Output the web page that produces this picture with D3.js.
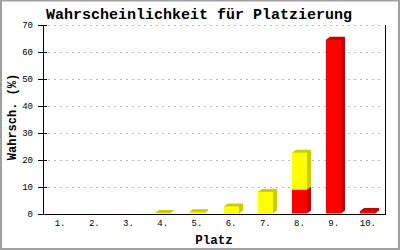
<!DOCTYPE html>
<html lang="de">
<head>
<meta charset="utf-8">
<style>
  body { margin: 0; background: #fff; }
  svg { display: block; font-family: "Liberation Mono", "DejaVu Sans Mono", monospace; }
</style>
<title></title>
</head>
<body>
<script src="https://d3js.org/d3.v7.min.js"></script>
<script>
// data
var plaetze = ["1.", "2.", "3.", "4.", "5.", "6.", "7.", "8.", "9.", "10."];
var rot  = [0, 0, 0, 0, 0, 0, 0, 8.8, 64.5, 0.9];   // unterer Teil
var gelb = [0, 0, 0, 0.2, 0.5, 2.6, 8.0, 13.8, 0, 0]; // oberer Teil
var yTicks = [0, 10, 20, 30, 40, 50, 60, 70];

var W = 400, H = 250;
var plotL = 43, plotR = 385, plotT = 25, plotB = 213.5;

var svg = d3.select("body").append("svg")
    .attr("width", W)
    .attr("height", H);

// outer frame
svg.append("rect")
    .attr("x", 1).attr("y", 0.5)
    .attr("width", W - 2).attr("height", H - 1.5)
    .attr("fill", "#fff")
    .attr("stroke", "#a0a0a0")
    .attr("stroke-width", 2);

var x = d3.scaleBand().domain(plaetze).range([plotL, plotR]);
var y = d3.scaleLinear().domain([0, 70]).range([plotB, plotT]);

// grid lines
svg.append("g").selectAll("line")
    .data(yTicks.filter(function(d) { return d > 0; }))
    .enter().append("line")
    .attr("x1", plotL + 5).attr("x2", plotR - 2)
    .attr("y1", function(d) { return Math.round(y(d)) + 0.5; })
    .attr("y2", function(d) { return Math.round(y(d)) + 0.5; })
    .attr("stroke", "#b8b8b8")
    .attr("stroke-dasharray", "2,4");

// bars (stacked, with 3D shadow)
var bw = 15, dx = 4, dy = 3;
var segs = [];
plaetze.forEach(function(p, i) {
    var s = [
        {p: p, y0: 0, y1: rot[i], front: "#ff0000", side: "#cc0000"},
        {p: p, y0: rot[i], y1: rot[i] + gelb[i], front: "#ffff00", side: "#cccc00"}
    ];
    s.forEach(function(d) { if (d.y1 > d.y0) segs.push(d); });
});

var bars = svg.append("g").selectAll("g").data(segs).enter().append("g");

function x0(d) { return Math.round(x(d.p) + (x.bandwidth() - bw) / 2); }

bars.append("polygon")
    .attr("points", function(d) {
        var a = x0(d), b = a + bw, t = y(d.y1), u = y(d.y0);
        return [[a, t], [a + dx, t - dy], [b + dx, t - dy], [b + dx, u - dy], [b, u]].join(" ");
    })
    .attr("fill", function(d) { return d.side; });

bars.append("rect")
    .attr("x", x0)
    .attr("y", function(d) { return y(d.y1); })
    .attr("width", bw)
    .attr("height", function(d) { return y(d.y0) - y(d.y1); })
    .attr("fill", function(d) { return d.front; });

// axes lines
svg.append("line")
    .attr("x1", plotL + 0.5).attr("x2", plotL + 0.5)
    .attr("y1", plotT).attr("y2", plotB + 0.5)
    .attr("stroke", "#000");
svg.append("line")
    .attr("x1", plotR + 0.5).attr("x2", plotR + 0.5)
    .attr("y1", plotT).attr("y2", plotB + 0.5)
    .attr("stroke", "#000");
svg.append("line")
    .attr("x1", plotL).attr("x2", plotR + 1)
    .attr("y1", Math.round(plotB) + 0.5).attr("y2", Math.round(plotB) + 0.5)
    .attr("stroke", "#000");

// y ticks
var yt = svg.append("g").selectAll("g").data(yTicks).enter().append("g")
    .attr("transform", function(d) { return "translate(0," + (Math.round(y(d)) + 0.5) + ")"; });
yt.append("line")
    .attr("x1", plotL - 5).attr("x2", plotL + 4)
    .attr("stroke", "#000");
yt.append("text")
    .attr("x", plotL - 10)
    .attr("dy", "0.32em")
    .attr("text-anchor", "end")
    .attr("font-size", "9px")
    .text(function(d) { return d; });

// x labels
svg.append("g").selectAll("text").data(plaetze).enter().append("text")
    .attr("x", function(d) { return x(d) + x.bandwidth() / 2; })
    .attr("y", 226)
    .attr("text-anchor", "middle")
    .attr("font-size", "9px")
    .text(function(d) { return d; });

// titles
svg.append("text")
    .attr("x", 199).attr("y", 19)
    .attr("text-anchor", "middle")
    .attr("font-size", "15px")
    .attr("font-weight", "bold")
    .text("Wahrscheinlichkeit für Platzierung");

svg.append("text")
    .attr("x", 214).attr("y", 244)
    .attr("text-anchor", "middle")
    .attr("font-size", "12.5px")
    .attr("font-weight", "bold")
    .text("Platz");

svg.append("text")
    .attr("transform", "translate(16,117) rotate(-90)")
    .attr("text-anchor", "middle")
    .attr("font-size", "12px")
    .attr("font-weight", "bold")
    .text("Wahrsch. (%)");
</script>
</body>
</html>
